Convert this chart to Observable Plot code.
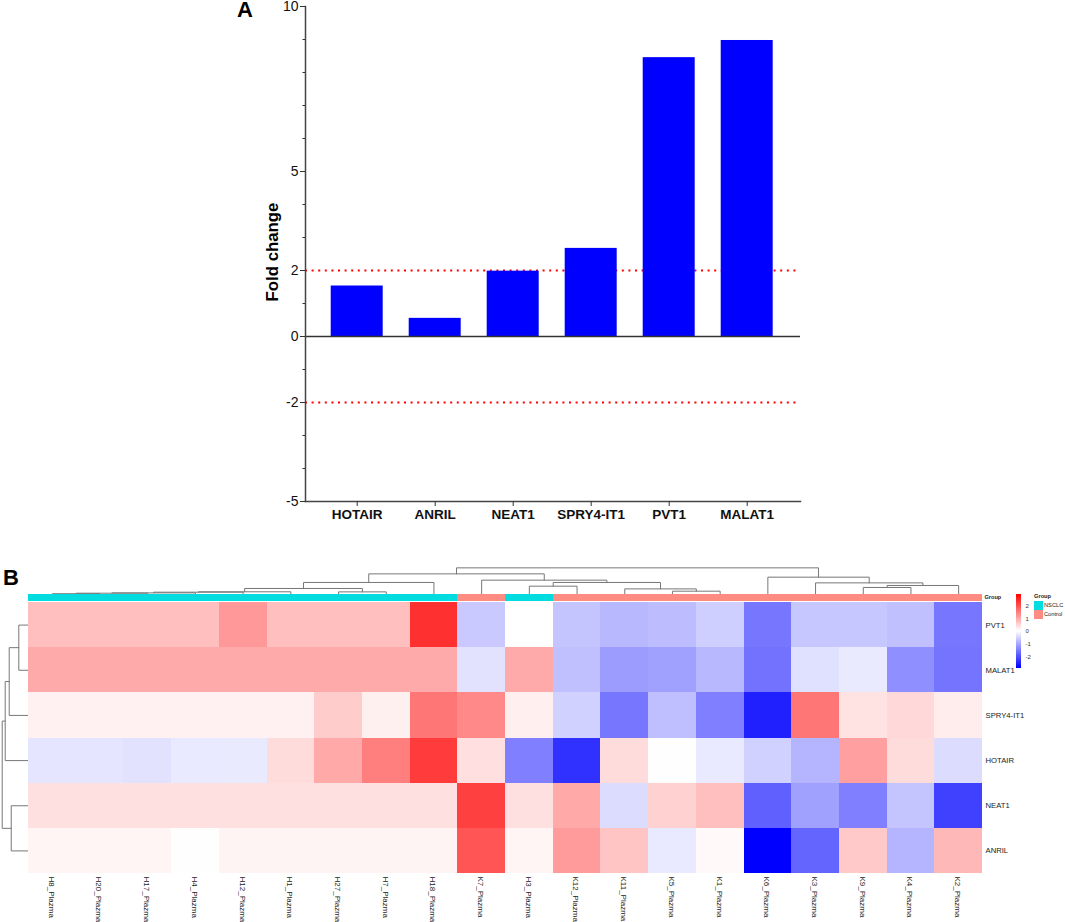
<!DOCTYPE html>
<html>
<head>
<meta charset="utf-8">
<script src="https://cdn.jsdelivr.net/npm/d3@7"></script>
<script src="https://cdn.jsdelivr.net/npm/@observablehq/plot@0.6"></script>
<style>
  body { margin: 0; background: #fff; font-family: "Liberation Sans", Arial, sans-serif; }
  #page { position: relative; width: 1065px; height: 922px; overflow: hidden; }
  #page > * { position: absolute; }
  .letter { font-weight: bold; font-size: 22px; line-height: 16px; color: #000; }
  .swatch { width: 9px; height: 9px; }
  .small { font-size: 5.7px; line-height: 9px; color: #222; }
</style>
</head>
<body>
<div id="page">
  <div id="chartA" style="left:0;top:0"></div>
  <div id="chartB" style="left:0;top:540px"></div>
  <div id="scale" style="left:1016px;top:594px"></div>
  <span class="letter" style="left:237px;top:2px">A</span>
  <span class="letter" style="left:3px;top:570px">B</span>
  <span class="small" style="left:1034px;top:592px;font-weight:bold">Group</span>
  <div class="swatch" style="left:1034px;top:601px;background:#00dce0"></div>
  <div class="swatch" style="left:1034px;top:610px;background:#ff8c82"></div>
  <span class="small" style="left:1044px;top:601px">NSCLC</span>
  <span class="small" style="left:1044px;top:610px">Control</span>
</div>
<script>
// Panel A: fold change
const genes = ["HOTAIR", "ANRIL", "NEAT1", "SPRY4-IT1", "PVT1", "MALAT1"];
const foldChange = [1.53, 0.55, 1.98, 2.67, 8.45, 8.97];
const cutoffs = [2, -2];
const majorTicks = [10, 5, 2, 0, -2, -5];
const minorTicks = [9, 8, 7, 6, 4, 3, 1, -1, -3, -4];

// Panel B: heatmap, columns in dendrogram order
const samples = ["H8", "H20", "H17", "H4", "H12", "H1", "H27", "H7", "H18", "K7",
  "H3", "K12", "K11", "K5", "K1", "K6", "K3", "K9", "K4", "K2"];
const sampleGroup = ["NSCLC", "NSCLC", "NSCLC", "NSCLC", "NSCLC", "NSCLC", "NSCLC", "NSCLC", "NSCLC", "Control",
  "NSCLC", "Control", "Control", "Control", "Control", "Control", "Control", "Control", "Control", "Control"];
const rowNames = ["PVT1", "MALAT1", "SPRY4-IT1", "HOTAIR", "NEAT1", "ANRIL"];
const pvt1 = [0.74, 0.74, 0.74, 0.74, 1.18, 0.74, 0.74, 0.74, 2.39, -0.63, 0, -0.68, -0.82, -0.77, -0.56, -1.58, -0.65, -0.65, -0.73, -1.58];
const malat1 = [0.98, 0.98, 0.98, 0.98, 0.98, 0.98, 0.98, 0.98, 0.98, -0.34, 0.98, -0.73, -1.15, -1.1, -0.82, -1.63, -0.36, -0.24, -1.29, -1.61];
const spry4 = [0.16, 0.16, 0.16, 0.16, 0.16, 0.16, 0.59, 0.17, 1.58, 1.37, 0.18, -0.53, -1.58, -0.74, -1.48, -2.58, 1.58, 0.34, 0.44, 0.21];
const hotair = [-0.3, -0.3, -0.34, -0.26, -0.24, 0.4, 1, 1.48, 2.27, 0.37, -1.48, -2.39, 0.4, 0.01, -0.26, -0.53, -0.86, 1.11, 0.4, -0.4];
const neat1 = [0.36, 0.36, 0.36, 0.36, 0.36, 0.36, 0.36, 0.36, 0.36, 2.21, 0.36, 1, -0.4, 0.53, 0.74, -1.84, -1.1, -1.48, -0.68, -2.21];
const anril = [0.11, 0.11, 0.11, 0.01, 0.13, 0.13, 0.13, 0.13, 0.13, 1.97, 0.12, 1.16, 0.68, -0.26, 0.07, -2.95, -1.79, 0.63, -0.86, 0.82];
const scaleLimit = 2.95;
const scaleTicks = [2, 1, 0, -1, -2];

// merges: [left, right, distance], a number points at an earlier merge
const colMerges = [
  ["H8", "H20", 0.05], [0, "H17", 0.1], [1, "H4", 0.13], [2, "H12", 0.2], [3, "H1", 0.24],
  ["H27", "H7", 0.23], [4, 5, 0.57], [6, "H18", 1.17], ["K5", "K1", 0.3], ["K11", 8, 0.53],
  ["H3", "K12", 0.8], [10, 9, 1.17], ["K7", 11, 1.4], [7, 12, 2.03], ["K9", "K4", 0.67],
  [14, "K2", 0.87], ["K3", 15, 1.13], ["K6", 16, 1.7], [13, 17, 2.63]
];
const rowMerges = [
  ["PVT1", "MALAT1", 0.97], [0, "SPRY4-IT1", 1.93], [1, "HOTAIR", 2.33],
  ["NEAT1", "ANRIL", 1.73], [2, 3, 2.63]
];

const font = "Liberation Sans, Arial, sans-serif";

// turns a merge list into the three-sided links of a dendrogram
function dendroLinks(merges, leaves) {
  const centers = [], heights = [], points = [];
  const pos = n => typeof n === "number" ? centers[n] : leaves.indexOf(n) + 0.5;
  const hgt = n => typeof n === "number" ? heights[n] : 0;
  merges.forEach(([a, b, h], i) => {
    points.push({id: i, pos: pos(a), h: hgt(a)}, {id: i, pos: pos(a), h},
      {id: i, pos: pos(b), h}, {id: i, pos: pos(b), h: hgt(b)});
    centers.push((pos(a) + pos(b)) / 2);
    heights.push(h);
  });
  return points;
}

const bars = genes.map((g, i) => ({gene: g, value: foldChange[i]}));

const chartA = Plot.plot({
  width: 1065,
  height: 540,
  marginTop: 6,
  marginBottom: 39,
  marginLeft: 305,
  marginRight: 265,
  style: {fontFamily: font, background: "transparent", color: "#111"},
  x: {domain: genes, range: [317.7, 785.7], paddingInner: 1 / 3, paddingOuter: 1 / 6, round: false, label: null},
  y: {domain: [-5, 10], range: [501, 6], label: null},
  marks: [
    Plot.ruleY(cutoffs, {stroke: "#ff0000", strokeWidth: 2, strokeDasharray: "2 4.6"}),
    Plot.barY(bars, {x: "gene", y: "value", fill: "#0000ff"}),
    Plot.ruleY([0], {stroke: "#333", strokeWidth: 1.5}),
    Plot.frame({anchor: "left", stroke: "#444", strokeWidth: 1.5}),
    Plot.frame({anchor: "bottom", stroke: "#444", strokeWidth: 1.5}),
    Plot.axisY({ticks: majorTicks, tickSize: 5, tickPadding: 2, fontSize: 14, label: null, tickFormat: d => String(d), stroke: "#333"}),
    Plot.axisY({ticks: minorTicks, tickSize: 2.5, tickFormat: () => "", label: null, stroke: "#333"}),
    Plot.axisX({tickSize: 5, tickPadding: 3, fontSize: 13.5, fontWeight: "bold", label: null, stroke: "#333"}),
    Plot.text(["Fold change"], {frameAnchor: "left", textAnchor: "middle", dx: -33, dy: -2, rotate: -90, fontSize: 16.8, fontWeight: "bold", fill: "#000"})
  ]
});
document.querySelector("#chartA").append(chartA);

const rowValues = [pvt1, malat1, spry4, hotair, neat1, anril];
const cells = rowValues.flatMap((vals, r) => vals.map((v, c) => ({r, c, value: v})));
const cols = samples.map((s, c) => ({sample: s, c, group: sampleGroup[c]}));
const rows = rowNames.map((name, r) => ({name, r}));

// dendrogram distances to row/column units of the heatmap
const barTop = -0.184, barBottom = -0.03;
const rowsPerDist = 0.2217, colsPerDist = 0.2096;

const chartB = Plot.plot({
  width: 1065,
  height: 382,
  marginTop: 62,
  marginBottom: 49,
  marginLeft: 28,
  marginRight: 83,
  style: {fontFamily: font, background: "transparent", color: "#333"},
  x: {domain: [0, 20], axis: null},
  y: {domain: [0, 6], reverse: true, axis: null},
  color: {type: "linear", domain: [-scaleLimit, 0, scaleLimit], range: ["#0000ff", "#ffffff", "#ff0000"]},
  marks: [
    Plot.line(dendroLinks(colMerges, samples), {z: "id", x: "pos", y: d => barTop - d.h * rowsPerDist, stroke: "#777", strokeWidth: 1}),
    Plot.line(dendroLinks(rowMerges, rowNames), {z: "id", y: "pos", x: d => -d.h * colsPerDist, stroke: "#777", strokeWidth: 1}),
    Plot.rect(cols.filter(d => d.group === "NSCLC"), {x1: "c", x2: d => d.c + 1, y1: barTop, y2: barBottom, fill: "#00dce0", shapeRendering: "crispEdges"}),
    Plot.rect(cols.filter(d => d.group === "Control"), {x1: "c", x2: d => d.c + 1, y1: barTop, y2: barBottom, fill: "#ff8c82", shapeRendering: "crispEdges"}),
    Plot.rect(cells, {x1: "c", x2: d => d.c + 1, y1: "r", y2: d => d.r + 1, fill: "value", shapeRendering: "crispEdges"}),
    Plot.text(rows, {x: 20, y: d => d.r + 0.5, text: "name", textAnchor: "start", dx: 3, fontSize: 7.7, fill: "#222"}),
    Plot.text(["Group"], {x: 20, y: (barTop + barBottom) / 2, textAnchor: "start", dx: 2, fontSize: 5.6, fontWeight: "bold", fill: "#222"}),
    Plot.text(cols, {x: d => d.c + 0.5, y: 6, text: d => d.sample + "_Plazma", rotate: 90, textAnchor: "start", dy: 3, dx: -1, fontSize: 8, fill: "#222"})
  ]
});
document.querySelector("#chartB").append(chartB);

// colour key next to the heatmap
const step = 0.05;
const scaleSteps = d3.range(-scaleLimit, scaleLimit, step);
const scaleChart = Plot.plot({
  width: 49,
  height: 74,
  marginTop: 0,
  marginBottom: 0,
  marginLeft: 0,
  marginRight: 44,
  style: {fontFamily: font, background: "transparent", color: "#333"},
  x: {domain: [0, 1], axis: null},
  y: {domain: [-scaleLimit, scaleLimit], axis: null},
  color: {type: "linear", domain: [-scaleLimit, 0, scaleLimit], range: ["#0000ff", "#ffffff", "#ff0000"]},
  marks: [
    Plot.rect(scaleSteps, {x1: 0, x2: 1, y1: d => d, y2: d => d + step, fill: d => d + step / 2, shapeRendering: "crispEdges"}),
    Plot.axisY({anchor: "right", ticks: scaleTicks, tickSize: 0, tickPadding: 4, fontSize: 6, label: null, tickFormat: d => String(d)})
  ]
});
document.querySelector("#scale").append(scaleChart);
</script>
</body>
</html>
